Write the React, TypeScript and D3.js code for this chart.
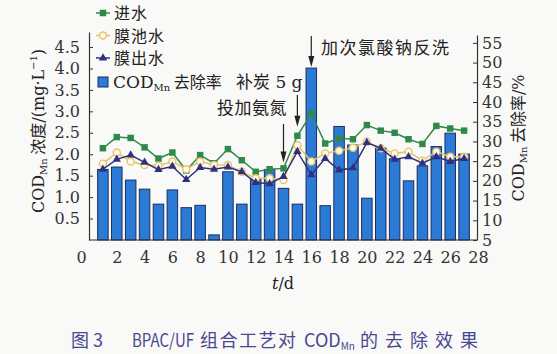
import React, { useEffect, useRef } from "react";
import {
  select,
  scaleLinear,
  axisLeft,
  axisRight,
  axisBottom,
  line,
  symbol,
  symbolSquare,
  symbolTriangle,
} from "d3";

// t/d
const days = [1, 2, 3, 4, 5, 6, 7, 8, 9, 10, 11, 12, 13, 14, 15, 16, 17, 18, 19, 20, 21, 22, 23, 24, 25, 26, 27];
// 进水 CODMn, mg/L
const influent = [2.14, 2.4, 2.38, 2.16, 1.9, 2.04, 1.62, 1.98, 1.79, 2.12, 1.86, 1.59, 1.65, 1.67, 2.43, 2.95, 2.25, 2.37, 2.35, 2.68, 2.55, 2.5, 2.35, 2.24, 2.66, 2.6, 2.55];
// 膜池水
const tankWater = [1.78, 2.04, 1.83, 1.75, 1.73, 1.83, 1.65, 1.83, 1.75, 1.75, 1.59, 1.44, 1.44, 1.4, 2.21, 1.83, 2.02, 2.08, 2.15, 2.29, 2.14, 2.02, 2.06, 1.85, 2.06, 1.94, 1.94];
// 膜出水
const effluent = [1.65, 1.88, 1.98, 1.81, 1.64, 1.72, 1.41, 1.69, 1.65, 1.7, 1.59, 1.34, 1.31, 1.48, 2.06, 1.52, 1.9, 1.63, 1.68, 2.27, 2.14, 1.88, 1.94, 1.79, 1.94, 1.83, 1.9];
// CODMn 去除率, %
const removalRate = [22.9, 23.5, 20.2, 17.9, 14.1, 17.7, 13.2, 13.8, 6.3, 22.3, 14.1, 20.4, 22.9, 18.1, 14.1, 48.6, 13.7, 33.8, 29.1, 15.6, 28.3, 25.6, 20.0, 23.8, 28.7, 32.1, 26.8];

const leftTicks = [0.5, 1, 1.5, 2, 2.5, 3, 3.5, 4, 4.5];
const rightTicks = [5, 10, 15, 20, 25, 30, 35, 40, 45, 50, 55];
const dayTicks = [0, 2, 4, 6, 8, 10, 12, 14, 16, 18, 20, 22, 24, 26, 28];

const serif = "'DejaVu Serif', 'Noto Sans CJK SC', serif";
const cjk = "'Noto Sans CJK SC', sans-serif";

const GREEN = "#2f8a4a";
const YELLOW = "#e6c46c";
const NAVY = "#30307e";
const BLUE = "#2b7bd6";
const BAR_EDGE = "#1d2d60";

const App = () => {
  const svgRef = useRef<SVGSVGElement>(null);

  useEffect(() => {
    const svg = select(svgRef.current);
    svg.selectAll("*").remove();

    const x = scaleLinear().domain([0, 28]).range([89, 478]);
    // the "0" label is pushed left of the axis corner
    const xLabel = scaleLinear().domain([0, 2, 28]).range([81, x(2), x(28)]);
    const yL = scaleLinear().domain([0, 4.85]).range([240, 32]);
    const yR = scaleLinear().domain([5, 57]).range([240, 35]);

    // bars
    const bw = 10.5;
    svg
      .selectAll(".bar")
      .data(removalRate)
      .join("rect")
      .attr("class", "bar")
      .attr("x", (d, i) => x(days[i]) - bw / 2)
      .attr("y", (d) => yR(d))
      .attr("width", bw)
      .attr("height", (d) => yR(5) - yR(d))
      .attr("fill", BLUE)
      .attr("stroke", BAR_EDGE)
      .attr("stroke-width", 1);

    // axes
    const gl = svg.append("g").attr("transform", "translate(89,0)");
    gl.call(axisLeft(yL).tickValues(leftTicks).tickSizeInner(-4).tickSizeOuter(0).tickPadding(9).tickFormat((d) => Number(d).toFixed(1)));
    const gr = svg.append("g").attr("transform", "translate(477,0)");
    gr.call(axisRight(yR).tickValues(rightTicks).tickSizeInner(-4).tickSizeOuter(0).tickPadding(5));
    svg
      .append("line")
      .attr("x1", 89)
      .attr("x2", 477)
      .attr("y1", 240)
      .attr("y2", 240)
      .attr("stroke", "#333")
      .attr("stroke-width", 1.2);
    const gb = svg.append("g").attr("transform", "translate(0,240)");
    gb.call(axisBottom(xLabel).tickValues(dayTicks).tickSize(0).tickPadding(12));
    gb.select(".domain").remove();

    [gl, gr, gb].forEach((g) => {
      g.selectAll("path.domain").attr("stroke", "#333").attr("stroke-width", 1.2);
      g.selectAll(".tick line").attr("stroke", "#333");
      g.selectAll("text").attr("font-family", serif).attr("font-size", 16).attr("fill", "#333");
    });

    // lines
    const series = [
      { values: influent, color: GREEN, kind: "square" },
      { values: tankWater, color: YELLOW, kind: "circle" },
      { values: effluent, color: NAVY, kind: "triangle" },
    ];
    const drawMarker = (g, kind, color, cx, cy) => {
      if (kind === "circle") {
        g.append("circle").attr("cx", cx).attr("cy", cy).attr("r", 3.5).attr("fill", "#fff9ea").attr("stroke", color).attr("stroke-width", 1.4);
      } else {
        g.append("path")
          .attr("d", symbol(kind === "square" ? symbolSquare : symbolTriangle, kind === "square" ? 42 : 30)())
          .attr("transform", `translate(${cx},${cy})`)
          .attr("fill", color);
      }
    };
    series.forEach((s) => {
      const path = line<number>()
        .x((d, i) => x(days[i]))
        .y((d) => yL(d));
      svg.append("path").attr("d", path(s.values)).attr("fill", "none").attr("stroke", s.color).attr("stroke-width", 1.5);
      const g = svg.append("g");
      s.values.forEach((v, i) => drawMarker(g, s.kind, s.color, x(days[i]), yL(v)));
    });

    // legend
    const legend = svg.append("g");
    const names = ["进水", "膜池水", "膜出水"];
    series.forEach((s, i) => {
      const ly = 13 + i * 22.5;
      legend.append("line").attr("x1", 96).attr("x2", 110).attr("y1", ly).attr("y2", ly).attr("stroke", s.color).attr("stroke-width", 1.5);
      drawMarker(legend, s.kind, s.color, 103, ly);
      legend.append("text").attr("x", 114).attr("y", ly + 6).attr("font-family", cjk).attr("font-size", 16).attr("letter-spacing", 1).attr("fill", "#222").text(names[i]);
    });
    legend.append("rect").attr("x", 98).attr("y", 77).attr("width", 10).attr("height", 10).attr("fill", BLUE).attr("stroke", BAR_EDGE);
    const lt = legend.append("text").attr("x", 113).attr("y", 88).attr("font-family", serif).attr("font-size", 17).attr("fill", "#222");
    lt.append("tspan").text("COD");
    lt.append("tspan").attr("font-size", 10).attr("dy", 3).text("Mn");
    lt.append("tspan").attr("dy", -3).attr("font-family", cjk).attr("font-size", 16).text(" 去除率");

    // axis titles
    const tl = svg
      .append("text")
      .attr("transform", "translate(44,131) rotate(-90)")
      .attr("text-anchor", "middle")
      .attr("font-family", serif)
      .attr("font-size", 16)
      .attr("fill", "#222");
    tl.append("tspan").text("COD");
    tl.append("tspan").attr("font-size", 10).attr("dy", 3).text("Mn");
    tl.append("tspan").attr("dy", -3).attr("font-family", cjk).text(" 浓度");
    tl.append("tspan").text("/(mg·L");
    tl.append("tspan").attr("font-size", 10).attr("dy", -7).text("−1");
    tl.append("tspan").attr("dy", 7).text(")");

    const tr = svg
      .append("text")
      .attr("transform", "translate(524,138) rotate(-90)")
      .attr("text-anchor", "middle")
      .attr("font-family", serif)
      .attr("font-size", 16)
      .attr("fill", "#222");
    tr.append("tspan").text("COD");
    tr.append("tspan").attr("font-size", 10).attr("dy", 3).text("Mn");
    tr.append("tspan").attr("dy", -3).attr("font-family", cjk).text(" 去除率");
    tr.append("tspan").text("/%");

    const tx = svg.append("text").attr("x", 283).attr("y", 289).attr("text-anchor", "middle").attr("font-family", serif).attr("font-size", 16).attr("fill", "#222");
    tx.append("tspan").attr("font-style", "italic").text("t");
    tx.append("tspan").text("/d");

    // annotations
    const arrow = (xp, y0, y1) => {
      svg.append("line").attr("x1", xp).attr("x2", xp).attr("y1", y0).attr("y2", y1 - 8).attr("stroke", "#222").attr("stroke-width", 1.2);
      svg.append("path").attr("d", `M${xp - 3},${y1 - 11}L${xp + 3},${y1 - 11}L${xp},${y1}Z`).attr("fill", "#222");
    };
    arrow(x(16), 36, yR(removalRate[15]) - 1);
    arrow(x(15), 95, yL(influent[14]) - 9);
    arrow(x(14), 124, yL(influent[13]) - 6);

    svg.append("text").attr("x", 321).attr("y", 54).attr("font-family", cjk).attr("font-size", 17).attr("letter-spacing", 1.5).attr("fill", "#222").text("加次氯酸钠反洗");
    const t2 = svg.append("text").attr("x", 236).attr("y", 88).attr("font-family", cjk).attr("font-size", 17).attr("fill", "#222");
    t2.append("tspan").text("补炭");
    t2.append("tspan").attr("font-family", serif).text(" 5 g");
    svg.append("text").attr("x", 217).attr("y", 114).attr("font-family", cjk).attr("font-size", 17).attr("letter-spacing", 0.5).attr("fill", "#222").text("投加氨氮");

    // caption
    const capY = 347;
    const capText = (xp, s, extra = {}) => {
      const t = svg.append("text").attr("x", xp).attr("y", capY).attr("font-family", cjk).attr("font-size", 18).attr("fill", "#484890");
      Object.entries(extra).forEach(([k, v]) => t.attr(k, v));
      t.text(s);
      return t;
    };
    capText(71, "图 3");
    capText(132, "BPAC/UF", { textLength: 62, lengthAdjust: "spacingAndGlyphs" });
    capText(200, "组合工艺对", { "letter-spacing": 1.5 });
    const cod = capText(304, "COD");
    cod.append("tspan").attr("font-size", 10).attr("dy", 3).text("Mn");
    capText(360, "的去除效果", { "letter-spacing": 7 });
  }, []);

  return (
    <svg
      ref={svgRef}
      width={557}
      height={354}
      style={{ position: "absolute", left: 0, top: 0, background: "#f9f9f7" }}
    />
  );
};

export default App;
